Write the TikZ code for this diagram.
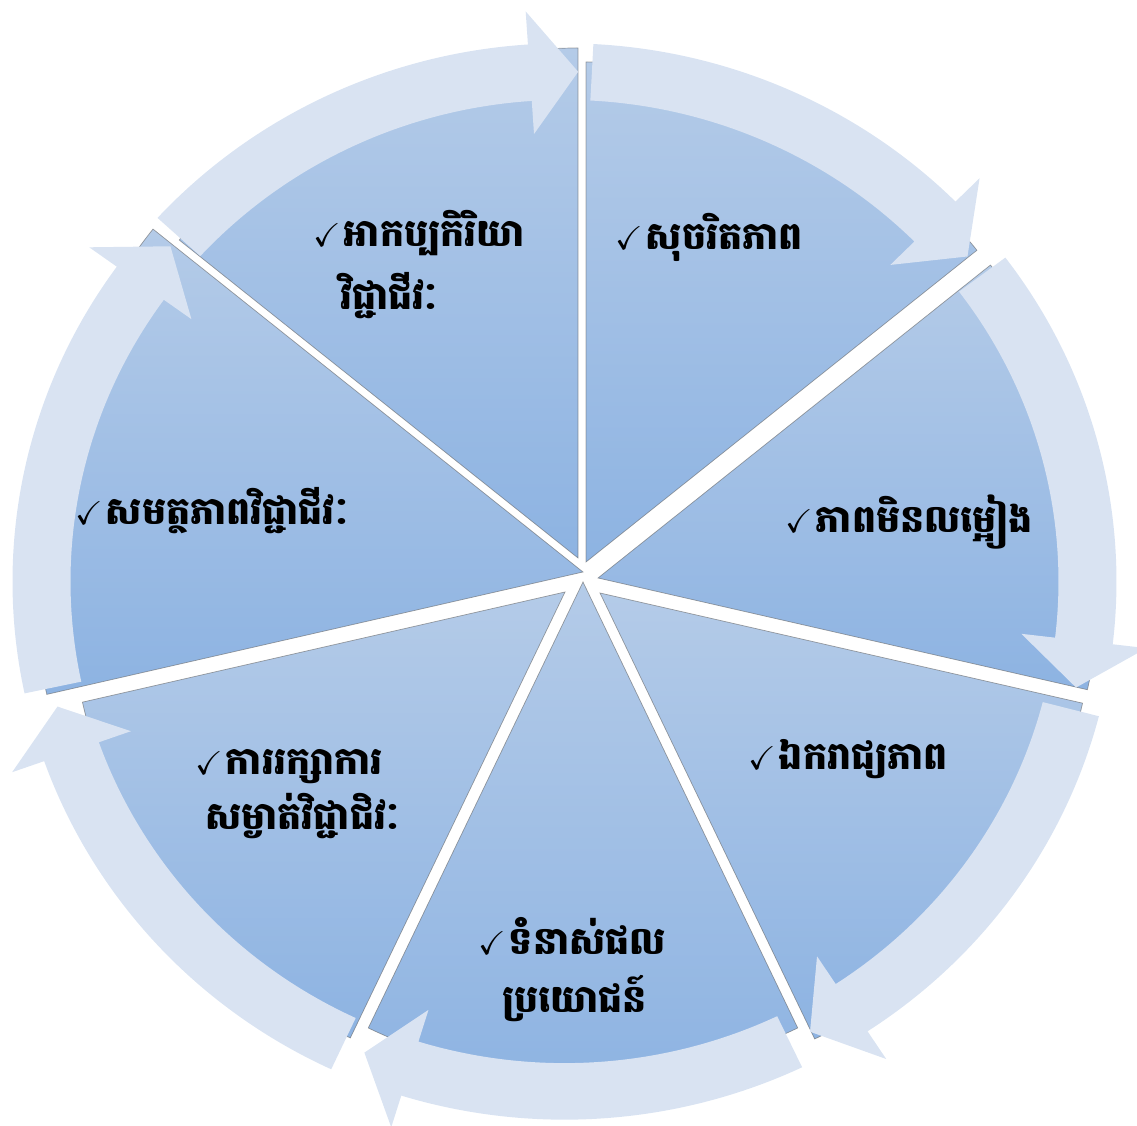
\documentclass[tikz,border=0pt]{standalone}
\usepackage{amssymb}
\usepackage{fontspec}
\newfontfamily\km[Script=Khmer]{Battambang}
\definecolor{wtop}{HTML}{B4CBE8}
\definecolor{wbot}{HTML}{8DB3E2}
\definecolor{arr}{HTML}{D9E3F2}
\tikzset{
  wedge/.style={top color=wtop, bottom color=wbot, draw=black!60, draw opacity=0.6, line width=0.35pt},
  ringarrow/.style={fill=arr},
  lbl/.style={anchor=base west, inner sep=0pt, font=\km\bfseries\fontsize{19}{22}\selectfont},
}
\newcommand\ck{{\fontsize{16.5}{16}\selectfont$\checkmark$}\kern1.5pt}
\begin{document}
\begin{tikzpicture}[x=0.5pt,y=0.5pt]
\useasboundingbox (0,0) rectangle (1137,1126);
% wedges
\path[wedge] (586,564) -- +(38.57:500) arc[start angle=38.57, end angle=90, radius=500] -- cycle;
\path[wedge] (598,548) -- +(-12.86:502) arc[start angle=-12.86, end angle=38.57, radius=502] -- cycle;
\path[wedge] (600,533) -- +(-64.29:495) arc[start angle=-64.29, end angle=-12.86, radius=495] -- cycle;
\path[wedge] (583,544) -- +(-115.71:495) arc[start angle=-115.71, end angle=-64.29, radius=495] -- cycle;
\path[wedge] (565,534) -- +(-167.14:495) arc[start angle=-167.14, end angle=-115.71, radius=495] -- cycle;
\path[wedge] (583,554) -- +(141.43:550) arc[start angle=141.43, end angle=192.86, radius=550] -- cycle;
\path[wedge] (578,568) -- +(90:510) arc[start angle=90, end angle=141.43, radius=510] -- cycle;
% ring arrows
\begin{scope}[shift={(564.5,544.5)}, yscale=0.975]
\foreach \s/\e in {137.5/88.5, 87/39.6, 37/-12, -14.5/-62, -64.5/-112.5, -115/-165.8, 192/138.9}{
  \pgfmathsetmacro\b{\e+5.3}
  \fill[ringarrow] (\s:552) arc[start angle=\s, end angle=\b, radius=552] -- (\b:586) -- (\e:523) -- (\b:460) -- (\b:494) arc[start angle=\b, end angle=\s, radius=494] -- cycle;
}
\end{scope}
% labels
\node[lbl] (t1) at (615,876) {\ck សុចរិតភាព};
\node[lbl] (t2) at (785,593) {\ck ភាពមិនលម្អៀង};
\node[lbl] (t3) at (748,356) {\ck ឯករាជ្យភាព};
\node[lbl] (t4a) at (478,171) {\ck ទំនាស់ផល};
\node[lbl] (t4b) at (502,113) {ប្រយោជន៍};
\node[lbl] (t5a) at (195,351) {\ck ការរក្សាការ};
\node[lbl] (t5b) at (205,296) {សម្ងាត់វិជ្ជាជិវៈ};
\node[lbl] (t6) at (75,601) {\ck សមត្ថភាពវិជ្ជាជីវៈ};
\node[lbl] (t7a) at (313,879) {\ck អាកប្បកិរិយា};
\node[lbl] (t7b) at (340,816) {វិជ្ជាជីវៈ};
\end{tikzpicture}
\end{document}
